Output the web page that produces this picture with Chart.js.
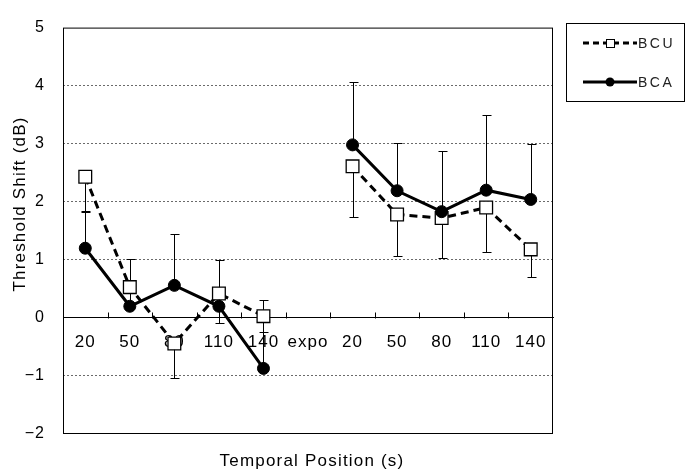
<!DOCTYPE html>
<html><head><meta charset="utf-8">
<script src="https://cdn.jsdelivr.net/npm/chart.js@4"></script>
<style>html,body{margin:0;padding:0;background:#fff}</style>
</head><body>
<canvas id="c" width="685" height="472" style="width:685px;height:472px;display:block"></canvas>
<script>
const categories = ['20','50','80','110','140','expo','20','50','80','110','140'];
const bcuValues  = [2.43, 0.53, -0.44, 0.42, 0.03, null, 2.61, 1.78, 1.72, 1.90, 1.18];
const bcaValues  = [1.20, 0.20, 0.56, 0.20, -0.87, null, 2.98, 2.19, 1.83, 2.20, 2.04];
const bcuLower   = [1.83, 0.25, -1.03, -0.08, -0.25, null, 1.73, 1.07, 1.04, 1.13, 0.71];
const bcaUpper   = [1.84, 1.01, 1.45, 1.00, 0.31, null, 4.06, 3.02, 2.88, 3.50, 2.99];
const seriesNames = ['BCU', 'BCA'];
const xTitle = 'Temporal Position (s)';
const yTitle = 'Threshold Shift (dB)';
const yMin = -2, yMax = 5;

const FONT = '"Liberation Sans", Arial, sans-serif';

const decorPlugin = {
  id: 'decor',
  beforeDraw(chart) {
    try { chart.ctx.letterSpacing = '1px'; } catch (e) {}
  },
  beforeDatasetsDraw(chart) {
    const {ctx, chartArea: a, scales: {x, y}} = chart;
    ctx.save();
    ctx.strokeStyle = '#000';
    ctx.lineWidth = 1;
    const half = (x.getPixelForValue(1) - x.getPixelForValue(0)) / 2;
    const y0 = Math.round(y.getPixelForValue(0)) + 0.5;
    ctx.beginPath();
    for (let i = 1; i < categories.length; i++) {
      const px = Math.round(x.getPixelForValue(i) - half) + 0.5;
      ctx.moveTo(px, y0);
      ctx.lineTo(px, y0 - 6);
    }
    ctx.stroke();
    const drawBar = (vals, ends) => {
      for (let i = 0; i < vals.length; i++) {
        if (vals[i] == null || ends[i] == null) continue;
        const px = Math.round(x.getPixelForValue(i)) + 0.5;
        const p1 = y.getPixelForValue(vals[i]);
        const p2 = Math.round(y.getPixelForValue(ends[i])) + 0.5;
        ctx.beginPath();
        ctx.moveTo(px, p1); ctx.lineTo(px, p2);
        ctx.moveTo(px - 4, p2); ctx.lineTo(px + 5, p2);
        ctx.stroke();
      }
    };
    drawBar(bcuValues, bcuLower);
    drawBar(bcaValues, bcaUpper);
    ctx.restore();
  },
  afterDraw(chart) {
    const {ctx, chartArea: a} = chart;
    ctx.save();
    ctx.strokeStyle = '#000';
    ctx.lineWidth = 1;
    ctx.strokeRect(a.left + 0.5, a.top + 0.5, a.right - a.left - 1, a.bottom - a.top - 1);
    ctx.fillStyle = '#000';
    ctx.font = '17px ' + FONT;
    try { ctx.letterSpacing = '1.2px'; } catch (e) {}
    ctx.textAlign = 'center';
    ctx.textBaseline = 'middle';
    ctx.fillText(xTitle, 312, 461);
    ctx.save();
    ctx.translate(20.5, 204);
    ctx.rotate(-Math.PI / 2);
    ctx.fillText(yTitle, 0, 0);
    ctx.restore();
    ctx.strokeRect(566.5, 23.5, 118, 78);
    const rows = [43, 82];
    ctx.lineWidth = 3;
    ctx.setLineDash([6, 4]);
    ctx.beginPath(); ctx.moveTo(583, rows[0]); ctx.lineTo(637, rows[0]); ctx.stroke();
    ctx.setLineDash([]);
    ctx.lineWidth = 1;
    ctx.fillStyle = '#fff';
    ctx.fillRect(606, rows[0] - 4, 8, 8);
    ctx.strokeRect(606.5, rows[0] - 3.5, 8, 8);
    ctx.lineWidth = 3;
    ctx.beginPath(); ctx.moveTo(583, rows[1]); ctx.lineTo(637, rows[1]); ctx.stroke();
    ctx.fillStyle = '#000';
    ctx.beginPath(); ctx.arc(610, rows[1], 4.5, 0, Math.PI * 2); ctx.fill();
    ctx.font = '14px ' + FONT;
    try { ctx.letterSpacing = '2.5px'; } catch (e) {}
    ctx.textAlign = 'left';
    ctx.fillStyle = '#222';
    ctx.fillText(seriesNames[0], 638, rows[0] + 1);
    ctx.fillText(seriesNames[1], 638, rows[1] + 1);
    ctx.restore();
  }
};

new Chart(document.getElementById('c'), {
  type: 'line',
  data: {
    labels: categories,
    datasets: [
      {
        label: seriesNames[0],
        data: bcuValues,
        order: 1,
        borderColor: '#000',
        borderWidth: 3,
        borderDash: [8, 5],
        pointStyle: 'rect',
        pointRadius: 9,
        pointBackgroundColor: '#fff',
        pointBorderColor: '#000',
        pointBorderWidth: 1.3,
        tension: 0,
        spanGaps: false
      },
      {
        label: seriesNames[1],
        data: bcaValues,
        order: 0,
        borderColor: '#000',
        borderWidth: 3,
        pointStyle: 'circle',
        pointRadius: 6,
        pointBackgroundColor: '#000',
        pointBorderColor: '#000',
        pointBorderWidth: 1,
        tension: 0,
        spanGaps: false
      }
    ]
  },
  options: {
    responsive: false,
    animation: false,
    devicePixelRatio: 1,
    layout: { padding: { left: 0, top: 22, right: 132, bottom: 38 } },
    plugins: { legend: { display: false }, tooltip: { enabled: false } },
    scales: {
      x: {
        type: 'category',
        position: { y: 0 },
        offset: true,
        z: 1,
        grid: { display: false, drawTicks: false },
        border: { display: true, color: '#000', width: 1 },
        ticks: {
          color: '#000',
          font: { family: FONT, size: 17 },
          padding: 14,
          maxRotation: 0,
          autoSkip: false
        }
      },
      y: {
        type: 'linear',
        min: yMin,
        max: yMax,
        afterFit(s) { s.width = 63; },
        grid: {
          drawTicks: false,
          color: (c) => (c.tick && (c.tick.value === 0 || c.tick.value === yMin || c.tick.value === yMax)) ? 'rgba(0,0,0,0)' : '#6a6a6a',
          lineWidth: 1
        },
        border: { display: false, dash: [2, 2] },
        ticks: {
          stepSize: 1,
          color: '#000',
          font: { family: FONT, size: 16 },
          padding: 18,
          callback: (v) => v < 0 ? '\u2212' + Math.abs(v) : String(v)
        }
      }
    }
  },
  plugins: [decorPlugin]
});
</script>
</body></html>
